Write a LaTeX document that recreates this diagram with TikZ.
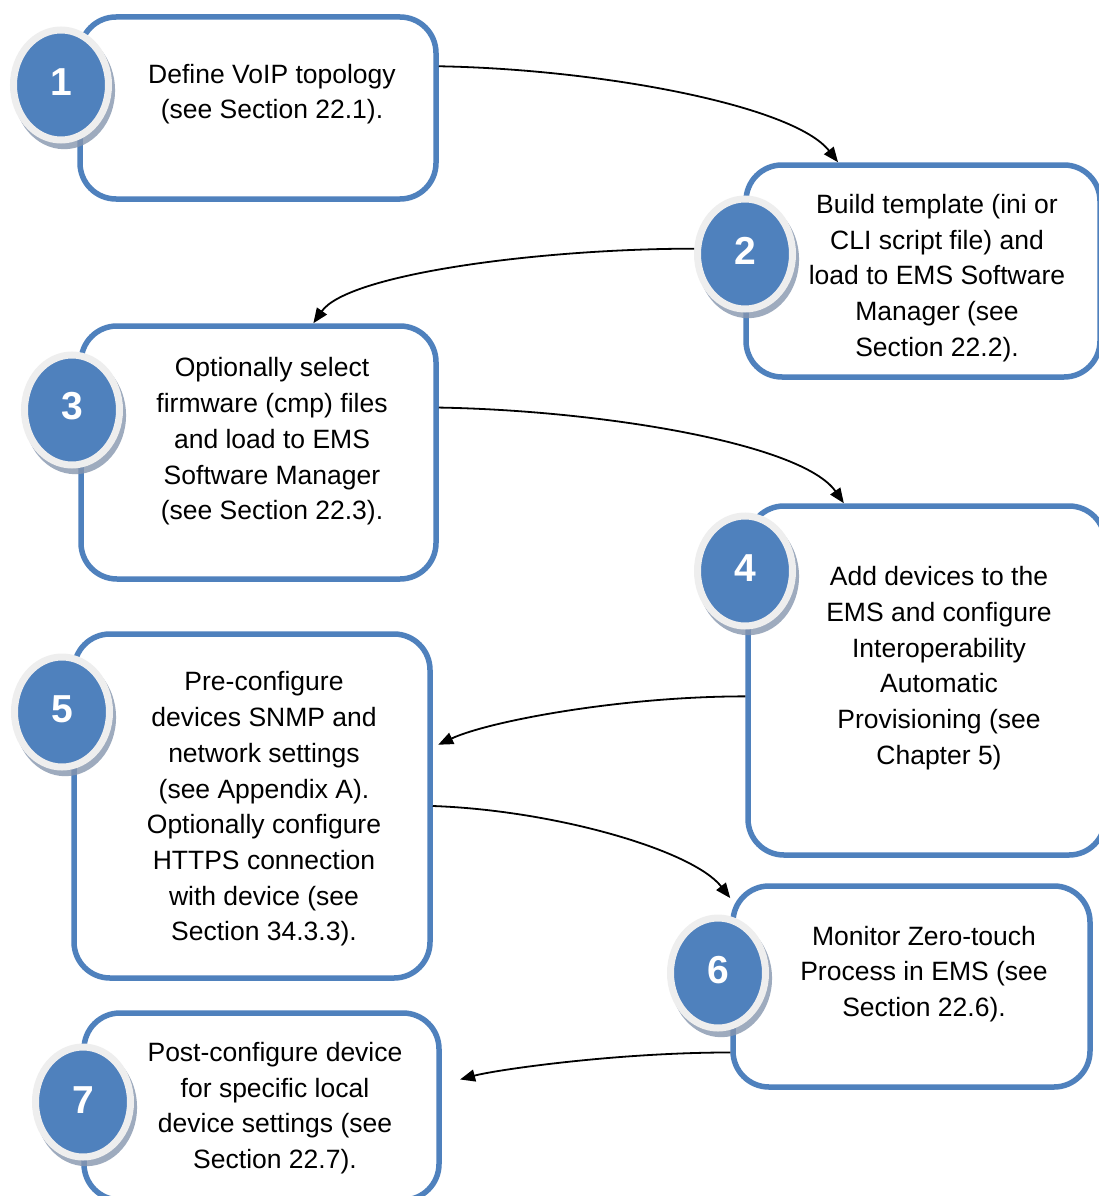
\documentclass[tikz,border=0pt]{standalone}
\usepackage{fontspec}
\setmainfont{Liberation Sans}
\usetikzlibrary{arrows.meta,shapes.geometric,shadows}
\definecolor{stepblue}{HTML}{4F81BD}
\definecolor{ringgray}{HTML}{EEEEEE}
\definecolor{shadowcol}{HTML}{8696AE}
\tikzset{
  stepbox/.style={draw=stepblue, line width=5.5pt, rounded corners=36pt, fill=white,
    inner sep=0pt, minimum width=#1},
  steptext/.style={align=center, inner sep=0pt, font=\fontsize{26.5}{35.7}\selectfont},
  badge/.style={ellipse, draw=ringgray, line width=7pt, fill=stepblue, inner sep=0pt,
    minimum width=95pt, minimum height=110pt,
    drop shadow={shadow xshift=3pt, shadow yshift=-5pt, shadow scale=1.07, fill=shadowcol, opacity=0.8}},
  badgenum/.style={text=white, font=\fontsize{39}{39}\bfseries\selectfont, inner sep=0pt},
  flow/.style={line width=1.8pt, -{Triangle[length=15pt,width=12pt]}}
}
\begin{document}
\begin{tikzpicture}[x=1pt,y=-1pt]
\useasboundingbox (0,0) rectangle (1099,1196);
\clip (0,0) rectangle (1099,1196);
\fill[white] (0,0) rectangle (1099,1196);
% boxes
\node[stepbox=356pt, minimum height=182pt] (b1) at (258,108) {};
\node[stepbox=354pt, minimum height=212pt] (b2) at (923,271) {};
\node[stepbox=355pt, minimum height=253pt] (b3) at (258.5,452.5) {};
\node[stepbox=357pt, minimum height=349pt] (b4) at (926.5,680.5) {};
\node[stepbox=356pt, minimum height=344pt] (b5) at (252,806) {};
\node[stepbox=357pt, minimum height=201pt] (b6) at (911.5,986.5) {};
\node[stepbox=355pt, minimum height=187pt] (b7) at (261.5,1106.5) {};
% texts
\node[steptext] (t1) at (272,94) {Define VoIP topology\\(see Section 22.1).};
\node[steptext] (t2) at (937,278) {Build template (ini or\\CLI script file) and\\load to EMS Software\\Manager (see\\Section 22.2).};
\node[steptext] (t3) at (272,441.5) {Optionally select\\firmware (cmp) files\\and load to EMS\\Software Manager\\(see Section 22.3).};
\node[steptext] (t4) at (939,668) {Add devices to the\\EMS and configure\\Interoperability\\Automatic\\Provisioning (see\\Chapter 5)};
\node[steptext] (t5) at (264,809) {Pre-configure\\devices SNMP and\\network settings\\(see Appendix A).\\Optionally configure\\HTTPS connection\\with device (see\\Section 34.3.3).};
\node[steptext] (t6) at (924,974) {Monitor Zero-touch\\Process in EMS (see\\Section 22.6).};
\node[steptext] (t7) at (275,1108) {Post-configure device\\for specific local\\device settings (see\\Section 22.7).};
% badges
\node[badge] (c1) at (61,85) {};
\node[badge] (c2) at (745,254) {};
\node[badge] (c3) at (72,410) {};
\node[badge] (c4) at (745,571) {};
\node[badge] (c5) at (62,712) {};
\node[badge] (c6) at (718,973) {};
\node[badge] (c7) at (83,1102) {};
\node[badgenum] (n1) at (61,82) {1};
\node[badgenum] (n2) at (745,251) {2};
\node[badgenum] (n3) at (72,406) {3};
\node[badgenum] (n4) at (745,568) {4};
\node[badgenum] (n5) at (62,709) {5};
\node[badgenum] (n6) at (718,970) {6};
\node[badgenum] (n7) at (83,1100) {7};
% connectors
\draw[flow] (b1.13.7) to[out=-1,in=128,out looseness=1,in looseness=0.45] (b2.128);
\draw[flow] (c2.174) to[out=180,in=55,out looseness=1,in looseness=0.4] (b3.67);
\draw[flow] (b3.14.2) to[out=-1,in=125,out looseness=1,in looseness=0.45] (b4.115);
\draw[flow, shorten >=6pt] (b4.185) to[out=180,in=25,out looseness=1,in looseness=0.5] (b5.18.6);
\draw[flow] (b5.east) to[out=-2,in=128,out looseness=1,in looseness=0.5] (b6.154);
\draw[flow, shorten >=19pt] (b6.200) to[out=180,in=15,out looseness=1,in looseness=0.5] (b7.7);
\end{tikzpicture}
\end{document}
